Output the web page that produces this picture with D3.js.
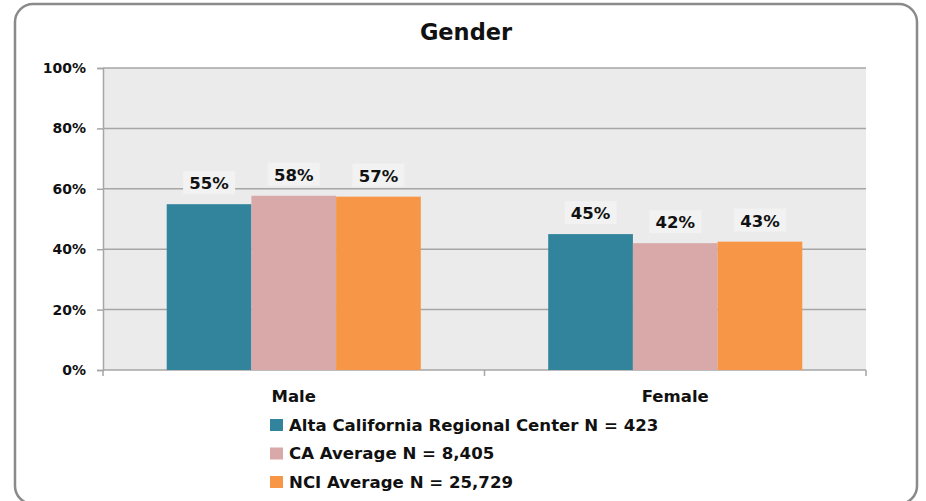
<!DOCTYPE html>
<html>
<head>
<meta charset="UTF-8">
<title>Gender</title>
<script src="https://d3js.org/d3.v7.min.js"></script>
<style>
  body { margin: 0; background: #fff; }
  svg { display: block; font-family: "DejaVu Sans", sans-serif; font-weight: bold; }
</style>
</head>
<body>
<svg id="chart" width="926" height="501"></svg>
<script>
// data
const categories = ["Male", "Female"];
const seriesNames = ["Alta California Regional Center N = 423", "CA Average N = 8,405", "NCI Average N = 25,729"];
const seriesColors = ["#31849b", "#d9a9a9", "#f79646"];
const acrcValues = [54.9, 45.0];
const caValues = [57.7, 42.0];
const nciValues = [57.4, 42.5];
const yTicks = [0, 20, 40, 60, 80, 100];

const allSeries = [acrcValues, caValues, nciValues];

const svg = d3.select("#chart");
const margin = { top: 68, right: 60, bottom: 131, left: 103 };
const w = 926 - margin.left - margin.right;
const h = 501 - margin.top - margin.bottom;

// outer rounded frame
svg.append("rect")
  .attr("x", 15).attr("y", 4)
  .attr("width", 902).attr("height", 500)
  .attr("rx", 18).attr("ry", 18)
  .attr("fill", "#fff").attr("stroke", "#8a8a8a").attr("stroke-width", 2.5);

// title
svg.append("text")
  .attr("x", 466).attr("y", 40)
  .attr("text-anchor", "middle")
  .attr("font-size", 22.5)
  .attr("fill", "#111")
  .text("Gender");

const g = svg.append("g").attr("transform", `translate(${margin.left},${margin.top})`);

const x0 = d3.scaleBand().domain(categories).range([0, w]).paddingInner(0).paddingOuter(0);
const x1 = d3.scaleBand().domain(d3.range(allSeries.length)).range([x0.bandwidth() * 0.167, x0.bandwidth() * 0.833]);
const y = d3.scaleLinear().domain([0, 100]).range([h, 0]);

// plot background
g.append("rect").attr("width", w).attr("height", h).attr("fill", "#ebebeb");

// gridlines
g.selectAll(".grid").data(yTicks.filter(d => d > 0)).join("line")
  .attr("x1", 0).attr("x2", w)
  .attr("y1", d => y(d)).attr("y2", d => y(d))
  .attr("stroke", "#a6a6a6").attr("stroke-width", 1.5);

// y axis
const yAxis = g.append("g")
  .call(d3.axisLeft(y).tickValues(yTicks).tickFormat(d => d + "%").tickSize(6).tickPadding(11));
yAxis.select(".domain").attr("stroke", "#a6a6a6").attr("stroke-width", 1.5);
yAxis.selectAll(".tick line").attr("stroke", "#a6a6a6").attr("stroke-width", 1.5);
yAxis.selectAll("text").attr("font-size", 14).attr("font-family", "DejaVu Sans").attr("font-weight", "bold").attr("fill", "#111");

// x axis
const xAxisG = g.append("g").attr("transform", `translate(0,${h})`);
xAxisG.append("line").attr("x1", 0).attr("x2", w).attr("stroke", "#a6a6a6").attr("stroke-width", 1.5);
xAxisG.selectAll(".xt").data([0, 1, 2]).join("line")
  .attr("x1", d => d * x0.bandwidth()).attr("x2", d => d * x0.bandwidth())
  .attr("y1", 0).attr("y2", 6)
  .attr("stroke", "#a6a6a6").attr("stroke-width", 1.5);
xAxisG.selectAll(".xl").data(categories).join("text")
  .attr("x", d => x0(d) + x0.bandwidth() / 2)
  .attr("y", 32)
  .attr("text-anchor", "middle")
  .attr("font-size", 16.5)
  .attr("fill", "#111")
  .text(d => d);

// bars
const barData = [];
categories.forEach((c, ci) => {
  allSeries.forEach((s, si) => barData.push({ cat: c, si: si, v: s[ci] }));
});

g.selectAll(".bar").data(barData).join("rect")
  .attr("x", d => x0(d.cat) + x1(d.si))
  .attr("y", d => y(d.v))
  .attr("width", x1.bandwidth())
  .attr("height", d => h - y(d.v))
  .attr("fill", d => seriesColors[d.si]);

// value labels with light boxes
const lab = g.selectAll(".lab").data(barData).join("g")
  .attr("transform", d => `translate(${x0(d.cat) + x1(d.si) + x1.bandwidth() / 2},${y(d.v) - 21})`);
lab.append("rect")
  .attr("x", -26).attr("y", -12).attr("width", 52).attr("height", 23)
  .attr("fill", "#f2f2f2");
lab.append("text")
  .attr("text-anchor", "middle")
  .attr("dy", "0.36em")
  .attr("font-size", 16.5)
  .attr("fill", "#111")
  .text(d => Math.round(d.v) + "%");

// legend
const leg = svg.append("g").attr("transform", "translate(270,425)");
const items = leg.selectAll("g").data(seriesNames).join("g")
  .attr("transform", (d, i) => `translate(0,${i * 28.5})`);
items.append("rect").attr("x", 0).attr("y", -6).attr("width", 13).attr("height", 12)
  .attr("fill", (d, i) => seriesColors[i]);
items.append("text").attr("x", 19).attr("dy", "0.36em")
  .attr("font-size", 16.6).attr("fill", "#111")
  .text(d => d);
</script>
</body>
</html>
